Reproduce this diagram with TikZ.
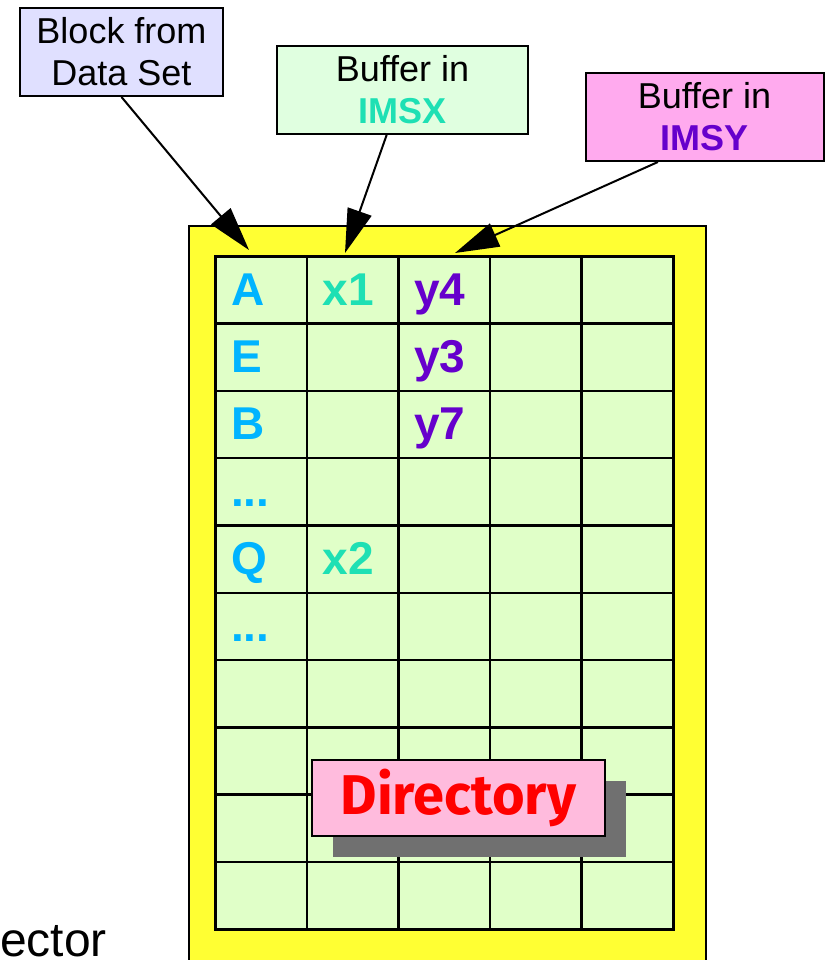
\documentclass[tikz,border=0pt]{standalone}
\usepackage{fontspec}
\setmainfont{Liberation Sans}
\newfontfamily\dirfont{Fira Sans}
\usetikzlibrary{arrows.meta, positioning, shadows}

\definecolor{blocklav}{HTML}{E0E0FF}
\definecolor{imsxmint}{HTML}{E0FFE0}
\definecolor{imsypink}{HTML}{FFAAEE}
\definecolor{imsxgreen}{HTML}{1EE0B4}
\definecolor{imsypurple}{HTML}{6600CC}
\definecolor{letterblue}{HTML}{00B4FF}
\definecolor{frameyellow}{HTML}{FFFF33}
\definecolor{cellgreen}{HTML}{E0FFC8}
\definecolor{dirpink}{HTML}{FFBBDD}
\definecolor{shadowgray}{HTML}{707070}
\newcommand{\moredots}{...}

\begin{document}
\begin{tikzpicture}[x=1pt, y=-1pt,
    callout/.style={draw, line width=2pt, minimum height=88pt, inner sep=0pt, align=center, font=\fontsize{36}{42}\selectfont},
    cell/.style={draw, line width=2.5pt, fill=cellgreen, minimum width=91.6pt, minimum height=67.3pt, inner sep=0pt, anchor=north west},
    entry/.style={anchor=base west, inner sep=0pt, font=\fontsize{46}{50}\selectfont\bfseries},
    pointer/.style={-{Triangle[length=44pt, width=25pt]}, line width=2pt}
]
\useasboundingbox (0,0) rectangle (826,960);

% Callouts
\node[callout, fill=blocklav, minimum width=203pt] (blockbox) at (121.5,52) {Block from\\Data Set};
\node[callout, fill=imsxmint, minimum width=251pt] (imsxbox) at (402.5,90) {Buffer in\\\textcolor{imsxgreen}{\bfseries IMSX}};
\node[callout, fill=imsypink, minimum width=238pt] (imsybox) at (704.5,117) {Buffer in\\\textcolor{imsypurple}{\bfseries IMSY}};

% Yellow frame with grid of buffers
\node[draw, line width=1.5pt, fill=frameyellow, minimum width=517pt, minimum height=800pt, anchor=north west] (frame) at (188,225) {};
\foreach \r in {1,...,10} {
    \foreach \c in {1,...,5} {
        \node[cell] (cell-\r-\c) at ({214+(\c-1)*91.6},{255+(\r-1)*67.3}) {};
    }
}

% Entries
\foreach \r/\c/\txt/\col in {1/1/A/letterblue, 2/1/E/letterblue, 3/1/B/letterblue, 4/1/\moredots/letterblue,
    5/1/Q/letterblue, 6/1/\moredots/letterblue, 1/2/x1/imsxgreen, 5/2/x2/imsxgreen,
    1/3/y4/imsypurple, 2/3/y3/imsypurple, 3/3/y7/imsypurple} {
    \node[entry, text=\col] at ([xshift=17pt, yshift=-50pt]cell-\r-\c.north west) {\txt};
}

% Directory
\node[draw, line width=2pt, fill=dirpink, minimum width=293pt, minimum height=76pt, text=red,
      font=\dirfont\bfseries\fontsize{56}{60}\selectfont,
      drop shadow={shadow xshift=21pt, shadow yshift=-21pt, fill=shadowgray, opacity=1}] (directory) at (458.5,798) {Directory};

% Pointers
\coordinate (tipA) at (249,250);
\coordinate (tipX) at (345,253);
\coordinate (tipY) at (455,253);
\draw[pointer] (blockbox.south) -- (tipA);
\draw[pointer] (imsxbox) -- (tipX);
\draw[pointer] (imsybox.224) -- (tipY);

\node[anchor=base west, inner sep=0pt, font=\fontsize{48}{52}\selectfont] (vectortext) at (0,956) {ector};
\end{tikzpicture}
\end{document}
